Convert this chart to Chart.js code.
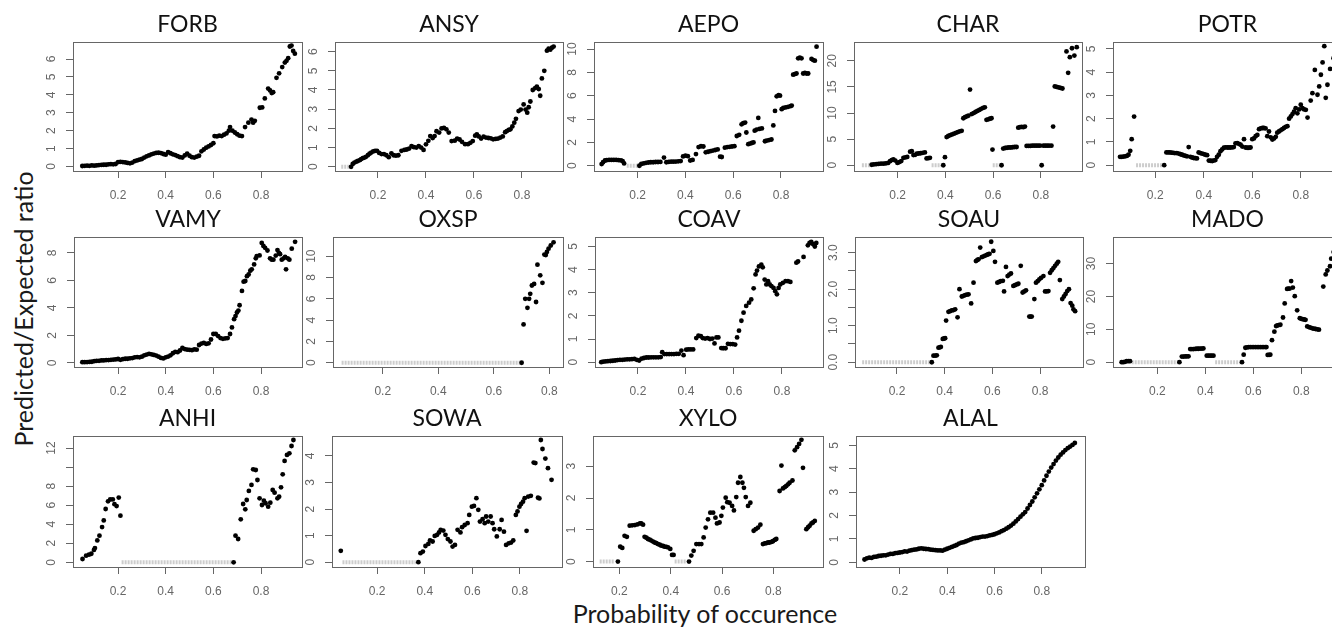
<!DOCTYPE html>
<html>
<head>
<meta charset="utf-8">
<title>Predicted/Expected ratio vs probability of occurence</title>
<script src="https://cdn.jsdelivr.net/npm/chart.js@4.4.1/dist/chart.umd.min.js"></script>
<style>
  html, body { margin: 0; padding: 0; background: #fff; }
  #fig { position: relative; width: 1332px; height: 630px; overflow: hidden; background: #fff; }
  #fig canvas { position: absolute; }
  .axis-title { position: absolute; font-family: Lato, "Open Sans", sans-serif; font-size: 25px; color: #1a1a1a; white-space: nowrap; }
  #xtitle { left: 705px; top: 613px; transform: translate(-50%, -50%); }
  #ytitle { left: 23px; top: 309px; transform: translate(-50%, -50%) rotate(-90deg); }
</style>
</head>
<body>
<div id="fig">
  <div id="xtitle" class="axis-title">Probability of occurence</div>
  <div id="ytitle" class="axis-title">Predicted/Expected ratio</div>
</div>
<script>
// [probability, ratio] pairs; *_ZERO are the grey runs of zeros (from, to)
const FORB = [[0.05,0.03],[0.06,0.04],[0.07,0.05],[0.08,0.04],[0.09,0.06],[0.10,0.05],[0.11,0.06],[0.12,0.08],[0.13,0.09],[0.14,0.1],[0.15,0.1],[0.16,0.12],[0.17,0.13],[0.18,0.12],[0.19,0.14],[0.20,0.24],[0.21,0.26],[0.22,0.25],[0.23,0.23],[0.24,0.2],[0.25,0.18],[0.26,0.22],[0.27,0.3],[0.28,0.34],[0.29,0.38],[0.30,0.42],[0.31,0.5],[0.32,0.57],[0.33,0.62],[0.34,0.68],[0.35,0.72],[0.36,0.76],[0.37,0.77],[0.38,0.75],[0.39,0.7],[0.40,0.66],[0.41,0.8],[0.42,0.74],[0.43,0.68],[0.44,0.64],[0.45,0.58],[0.46,0.52],[0.47,0.5],[0.48,0.62],[0.49,0.72],[0.50,0.6],[0.51,0.52],[0.52,0.5],[0.53,0.55],[0.54,0.6],[0.55,0.85],[0.56,0.95],[0.57,1.05],[0.58,1.12],[0.59,1.2],[0.60,1.3],[0.605,1.7],[0.615,1.68],[0.625,1.72],[0.635,1.7],[0.645,1.78],[0.655,1.85],[0.665,2.0],[0.67,2.2],[0.68,2.0],[0.69,1.9],[0.70,1.8],[0.71,1.72],[0.72,1.7],[0.733,2.2],[0.747,2.45],[0.76,2.62],[0.767,2.45],[0.774,2.55],[0.795,3.28],[0.805,3.3],[0.816,3.8],[0.83,4.35],[0.838,4.25],[0.845,4.1],[0.851,4.15],[0.865,4.95],[0.876,5.2],[0.889,5.55],[0.9,5.8],[0.907,5.9],[0.914,6.05],[0.921,6.7],[0.928,6.75],[0.935,6.45],[0.942,6.3]];
const FORB_ZERO = [];

const ANSY = [[0.088,0.0],[0.095,0.15],[0.102,0.22],[0.11,0.27],[0.116,0.3],[0.125,0.35],[0.13,0.4],[0.137,0.45],[0.144,0.48],[0.15,0.52],[0.158,0.6],[0.165,0.68],[0.172,0.74],[0.18,0.8],[0.188,0.83],[0.196,0.83],[0.205,0.72],[0.215,0.66],[0.225,0.66],[0.235,0.6],[0.245,0.5],[0.256,0.7],[0.265,0.6],[0.275,0.58],[0.285,0.6],[0.298,0.83],[0.31,0.88],[0.32,0.9],[0.33,0.95],[0.34,1.08],[0.35,1.02],[0.36,1.0],[0.37,1.08],[0.38,1.0],[0.39,0.88],[0.40,1.17],[0.41,1.35],[0.418,1.6],[0.428,1.5],[0.436,1.6],[0.444,1.85],[0.455,1.78],[0.465,2.0],[0.475,2.03],[0.485,1.95],[0.495,1.78],[0.507,1.34],[0.52,1.36],[0.53,1.47],[0.54,1.42],[0.55,1.3],[0.563,1.18],[0.575,1.18],[0.585,1.25],[0.595,1.34],[0.605,1.62],[0.612,1.69],[0.62,1.58],[0.63,1.47],[0.64,1.57],[0.65,1.52],[0.66,1.5],[0.67,1.48],[0.68,1.43],[0.69,1.45],[0.70,1.47],[0.71,1.52],[0.72,1.58],[0.73,1.8],[0.737,1.86],[0.745,1.92],[0.752,1.95],[0.76,2.1],[0.768,2.3],[0.775,2.5],[0.786,2.9],[0.795,2.98],[0.807,3.25],[0.815,2.98],[0.822,2.82],[0.828,3.1],[0.835,3.4],[0.845,4.0],[0.855,4.1],[0.862,4.18],[0.87,4.05],[0.876,3.7],[0.883,4.6],[0.893,5.0],[0.904,6.05],[0.911,6.15],[0.918,6.1],[0.925,6.2],[0.932,6.26]];
const ANSY_ZERO = [[0.047, 0.08]];

const AEPO = [[0.049,0.14],[0.055,0.3],[0.063,0.45],[0.07,0.48],[0.08,0.5],[0.09,0.5],[0.1,0.5],[0.11,0.5],[0.12,0.48],[0.13,0.46],[0.137,0.4],[0.143,0.2],[0.207,0.0],[0.215,0.15],[0.225,0.2],[0.235,0.25],[0.245,0.28],[0.255,0.3],[0.265,0.3],[0.275,0.32],[0.285,0.32],[0.295,0.33],[0.31,0.7],[0.32,0.3],[0.33,0.33],[0.34,0.35],[0.35,0.35],[0.36,0.36],[0.37,0.38],[0.38,0.4],[0.39,0.8],[0.40,0.86],[0.41,0.82],[0.42,0.45],[0.43,0.5],[0.444,1.0],[0.455,1.6],[0.465,1.67],[0.475,1.65],[0.485,1.15],[0.495,1.2],[0.505,1.25],[0.515,1.3],[0.525,1.35],[0.535,1.4],[0.545,0.78],[0.552,0.75],[0.565,1.55],[0.575,1.6],[0.585,1.62],[0.595,1.65],[0.605,1.68],[0.615,2.55],[0.625,2.65],[0.635,3.55],[0.642,3.65],[0.65,3.7],[0.655,2.85],[0.663,1.85],[0.67,1.9],[0.678,1.95],[0.685,2.0],[0.69,3.0],[0.698,3.1],[0.705,4.1],[0.71,3.15],[0.72,3.2],[0.733,2.1],[0.74,2.15],[0.75,2.2],[0.76,2.25],[0.768,3.45],[0.775,4.7],[0.782,5.95],[0.79,6.05],[0.796,6.0],[0.803,4.85],[0.81,4.95],[0.82,5.0],[0.83,5.05],[0.84,5.1],[0.845,5.15],[0.851,7.8],[0.858,7.85],[0.865,7.9],[0.872,9.2],[0.879,9.25],[0.886,9.2],[0.893,7.9],[0.9,7.95],[0.907,7.9],[0.914,7.9],[0.928,9.15],[0.935,9.05],[0.942,9.0],[0.949,10.2]];
const AEPO_ZERO = [[0.154, 0.2]];

const CHAR = [[0.091,0.1],[0.1,0.15],[0.11,0.2],[0.12,0.25],[0.13,0.3],[0.14,0.3],[0.15,0.35],[0.16,0.45],[0.168,0.78],[0.175,1.0],[0.182,1.1],[0.19,0.9],[0.199,0.45],[0.207,0.6],[0.215,0.8],[0.224,1.42],[0.232,1.5],[0.24,1.6],[0.252,2.6],[0.259,2.7],[0.266,1.95],[0.273,2.0],[0.28,2.2],[0.288,2.25],[0.296,2.3],[0.305,2.38],[0.314,2.45],[0.321,1.3],[0.328,1.35],[0.335,1.42],[0.391,0.0],[0.398,1.55],[0.405,5.4],[0.412,5.6],[0.42,5.75],[0.428,5.9],[0.436,6.05],[0.444,6.2],[0.452,6.35],[0.46,6.5],[0.468,6.6],[0.475,9.0],[0.482,9.2],[0.489,9.35],[0.496,9.5],[0.503,14.5],[0.51,9.8],[0.518,10.0],[0.526,10.2],[0.534,10.4],[0.542,10.6],[0.55,10.8],[0.558,11.0],[0.565,11.1],[0.572,8.7],[0.579,8.8],[0.586,8.9],[0.593,9.0],[0.597,3.0],[0.635,0.0],[0.642,3.2],[0.65,3.3],[0.658,3.35],[0.666,3.4],[0.674,3.4],[0.682,3.45],[0.69,3.5],[0.698,3.5],[0.705,7.2],[0.712,7.3],[0.719,7.35],[0.726,7.3],[0.733,7.4],[0.74,3.7],[0.748,3.7],[0.756,3.7],[0.764,3.75],[0.772,3.75],[0.78,3.75],[0.788,3.75],[0.796,3.75],[0.803,0.0],[0.81,3.75],[0.818,3.75],[0.826,3.75],[0.834,3.75],[0.844,3.75],[0.851,7.4],[0.858,15.1],[0.866,15.0],[0.874,14.9],[0.882,14.8],[0.89,14.7],[0.907,21.8],[0.914,17.7],[0.921,20.7],[0.93,22.4],[0.94,21.0],[0.95,22.6]];
const CHAR_ZERO = [[0.05, 0.084], [0.342, 0.384], [0.598, 0.628]];

const POTR = [[0.055,0.36],[0.062,0.36],[0.069,0.37],[0.076,0.38],[0.083,0.4],[0.09,0.45],[0.097,0.62],[0.103,1.12],[0.113,2.09],[0.237,0.0],[0.246,0.55],[0.253,0.55],[0.26,0.55],[0.267,0.54],[0.274,0.53],[0.281,0.52],[0.289,0.52],[0.297,0.5],[0.304,0.47],[0.311,0.45],[0.318,0.42],[0.325,0.4],[0.331,0.38],[0.338,0.78],[0.345,0.36],[0.352,0.33],[0.359,0.31],[0.366,0.3],[0.372,0.29],[0.379,0.55],[0.386,0.52],[0.393,0.5],[0.4,0.48],[0.407,0.45],[0.414,0.43],[0.421,0.2],[0.428,0.19],[0.435,0.18],[0.441,0.2],[0.448,0.22],[0.455,0.36],[0.462,0.45],[0.469,0.6],[0.476,0.68],[0.483,0.75],[0.49,0.77],[0.497,0.76],[0.504,0.76],[0.511,0.76],[0.518,0.77],[0.524,0.78],[0.531,0.94],[0.538,0.95],[0.545,0.92],[0.552,0.88],[0.559,0.8],[0.566,1.12],[0.572,0.76],[0.579,0.75],[0.586,0.75],[0.593,0.76],[0.6,1.12],[0.607,1.15],[0.614,1.25],[0.621,1.3],[0.628,1.55],[0.635,1.58],[0.642,1.6],[0.648,1.6],[0.655,1.58],[0.662,1.25],[0.669,1.45],[0.676,1.2],[0.683,1.1],[0.69,1.15],[0.697,1.22],[0.703,1.4],[0.71,1.45],[0.717,1.5],[0.724,1.55],[0.731,1.6],[0.738,1.65],[0.745,1.68],[0.752,2.0],[0.759,2.1],[0.766,2.2],[0.772,2.3],[0.779,2.45],[0.786,2.23],[0.793,2.4],[0.8,2.6],[0.807,2.45],[0.814,2.4],[0.821,2.38],[0.828,2.05],[0.841,2.78],[0.848,3.1],[0.858,4.1],[0.869,3.03],[0.876,3.39],[0.883,3.89],[0.89,4.42],[0.897,5.12],[0.903,2.9],[0.91,3.46],[0.921,4.14],[0.935,4.6],[0.945,3.8]];
const POTR_ZERO = [[0.121, 0.228]];

const VAMY = [[0.05,0.05],[0.06,0.05],[0.07,0.06],[0.08,0.07],[0.09,0.08],[0.1,0.12],[0.11,0.15],[0.12,0.15],[0.13,0.18],[0.14,0.18],[0.15,0.2],[0.16,0.2],[0.17,0.22],[0.18,0.24],[0.19,0.25],[0.2,0.28],[0.21,0.22],[0.22,0.27],[0.23,0.3],[0.24,0.3],[0.25,0.33],[0.26,0.35],[0.27,0.4],[0.28,0.42],[0.29,0.4],[0.3,0.45],[0.31,0.55],[0.32,0.6],[0.33,0.65],[0.34,0.62],[0.35,0.58],[0.36,0.53],[0.37,0.45],[0.38,0.36],[0.39,0.32],[0.4,0.4],[0.41,0.46],[0.42,0.55],[0.43,0.7],[0.44,0.8],[0.45,0.78],[0.46,0.9],[0.47,1.08],[0.48,1.0],[0.49,0.96],[0.5,0.95],[0.51,0.92],[0.52,0.98],[0.53,0.96],[0.54,1.3],[0.55,1.4],[0.56,1.45],[0.57,1.38],[0.58,1.42],[0.59,1.7],[0.6,2.1],[0.61,2.1],[0.62,1.95],[0.63,1.8],[0.64,1.75],[0.65,1.78],[0.66,1.8],[0.67,2.1],[0.678,2.58],[0.687,3.18],[0.693,3.4],[0.699,3.66],[0.705,3.8],[0.71,4.19],[0.72,5.23],[0.727,5.9],[0.734,5.95],[0.741,6.3],[0.748,6.43],[0.755,6.7],[0.761,6.8],[0.771,7.16],[0.778,7.6],[0.782,7.76],[0.794,7.81],[0.803,8.72],[0.81,8.5],[0.817,8.36],[0.827,8.17],[0.838,7.6],[0.845,7.5],[0.852,7.5],[0.862,7.8],[0.869,8.2],[0.875,8.0],[0.88,7.9],[0.887,7.5],[0.895,7.6],[0.901,7.7],[0.905,6.8],[0.912,7.6],[0.919,7.5],[0.929,8.3],[0.943,8.8]];
const VAMY_ZERO = [];

const OXSP = [[0.70,0.0],[0.707,3.6],[0.713,6.0],[0.721,5.15],[0.727,6.0],[0.731,6.47],[0.737,7.25],[0.745,7.4],[0.752,5.7],[0.757,9.2],[0.767,8.2],[0.775,7.5],[0.782,10.15],[0.787,10.1],[0.791,10.4],[0.797,10.7],[0.805,11.0],[0.815,11.3]];
const OXSP_ZERO = [[0.052, 0.695]];

const COAV = [[0.047,0.0],[0.055,0.02],[0.065,0.03],[0.075,0.04],[0.085,0.05],[0.095,0.06],[0.105,0.07],[0.115,0.09],[0.125,0.1],[0.135,0.1],[0.145,0.11],[0.155,0.12],[0.165,0.12],[0.175,0.13],[0.185,0.14],[0.195,0.1],[0.205,0.07],[0.215,0.15],[0.225,0.18],[0.235,0.2],[0.245,0.2],[0.255,0.21],[0.265,0.21],[0.275,0.21],[0.285,0.21],[0.295,0.22],[0.301,0.43],[0.31,0.35],[0.32,0.35],[0.33,0.35],[0.34,0.35],[0.35,0.35],[0.36,0.36],[0.37,0.36],[0.381,0.5],[0.39,0.3],[0.401,0.54],[0.41,0.55],[0.42,0.55],[0.43,0.55],[0.443,1.04],[0.452,1.14],[0.462,1.12],[0.47,1.04],[0.48,1.02],[0.49,1.04],[0.5,1.0],[0.51,1.02],[0.519,0.81],[0.527,1.07],[0.535,1.07],[0.547,0.61],[0.555,0.6],[0.565,0.6],[0.575,0.79],[0.585,0.78],[0.595,0.78],[0.605,0.76],[0.613,1.07],[0.621,1.36],[0.631,1.79],[0.64,2.14],[0.651,2.43],[0.663,2.57],[0.672,2.71],[0.682,3.19],[0.69,3.79],[0.696,3.96],[0.704,4.14],[0.714,4.21],[0.72,4.1],[0.728,3.57],[0.735,3.36],[0.742,3.5],[0.749,3.36],[0.756,3.29],[0.765,3.21],[0.772,3.07],[0.779,2.93],[0.786,3.21],[0.793,3.36],[0.804,3.43],[0.815,3.5],[0.825,3.5],[0.835,3.47],[0.86,4.3],[0.867,4.35],[0.89,4.55],[0.908,5.05],[0.915,5.15],[0.922,5.2],[0.93,5.1],[0.937,5.0],[0.943,5.15]];
const COAV_ZERO = [];

const SOAU = [[0.346,0.0],[0.353,0.18],[0.36,0.18],[0.367,0.19],[0.374,0.4],[0.38,0.41],[0.384,0.42],[0.392,0.64],[0.398,0.65],[0.402,0.66],[0.406,1.14],[0.416,1.38],[0.423,1.4],[0.43,1.42],[0.437,1.43],[0.444,1.45],[0.454,1.23],[0.462,2.0],[0.472,1.8],[0.479,1.82],[0.486,1.84],[0.493,1.85],[0.5,1.86],[0.511,1.61],[0.521,2.18],[0.531,2.77],[0.537,2.8],[0.542,2.82],[0.549,3.14],[0.556,2.88],[0.563,2.9],[0.57,2.92],[0.577,2.94],[0.583,2.96],[0.588,2.97],[0.595,3.3],[0.604,3.05],[0.611,2.75],[0.621,2.18],[0.628,2.2],[0.635,2.22],[0.644,2.23],[0.649,1.94],[0.657,2.61],[0.664,2.36],[0.671,2.4],[0.678,2.43],[0.688,2.09],[0.695,2.11],[0.702,2.13],[0.709,2.15],[0.719,2.64],[0.727,1.91],[0.734,1.94],[0.741,1.97],[0.755,1.25],[0.76,1.25],[0.765,1.25],[0.776,1.73],[0.783,2.18],[0.79,2.22],[0.797,2.27],[0.804,2.31],[0.814,2.36],[0.821,1.94],[0.828,1.94],[0.835,1.95],[0.842,2.45],[0.849,2.52],[0.856,2.58],[0.863,2.64],[0.87,2.7],[0.876,2.75],[0.883,2.25],[0.893,1.73],[0.9,1.8],[0.907,1.87],[0.914,1.95],[0.921,2.0],[0.928,1.62],[0.935,1.55],[0.94,1.45],[0.947,1.4]];
const SOAU_ZERO = [[0.054, 0.34]];

const MADO = [[0.051,0.0],[0.058,0.0],[0.065,0.1],[0.072,0.3],[0.079,0.3],[0.086,0.3],[0.292,0.0],[0.302,1.7],[0.309,1.7],[0.316,1.75],[0.323,1.75],[0.33,1.8],[0.337,4.0],[0.344,4.0],[0.351,4.0],[0.358,4.05],[0.365,4.1],[0.372,4.1],[0.379,4.15],[0.386,4.15],[0.392,4.2],[0.406,2.0],[0.413,2.0],[0.42,2.0],[0.427,2.0],[0.434,2.0],[0.553,0.0],[0.56,2.3],[0.567,4.4],[0.574,4.5],[0.581,4.6],[0.588,4.6],[0.595,4.6],[0.602,4.6],[0.609,4.6],[0.616,4.6],[0.623,4.6],[0.63,4.6],[0.637,4.6],[0.644,4.6],[0.651,4.6],[0.655,4.6],[0.66,2.2],[0.666,2.2],[0.671,2.3],[0.678,6.7],[0.688,9.3],[0.695,11.0],[0.7,11.2],[0.706,11.3],[0.713,11.4],[0.724,13.6],[0.731,17.9],[0.741,22.3],[0.746,22.4],[0.752,22.4],[0.758,24.7],[0.765,22.7],[0.773,20.1],[0.783,15.8],[0.794,13.4],[0.8,13.2],[0.806,13.1],[0.812,13.0],[0.818,12.9],[0.825,10.9],[0.832,10.7],[0.839,10.5],[0.846,10.3],[0.853,10.2],[0.86,10.1],[0.867,10.0],[0.874,9.9],[0.892,23.0],[0.902,26.7],[0.909,27.9],[0.92,29.2],[0.925,31.5],[0.935,33.5],[0.945,35.5],[0.955,36.6]];
const MADO_ZERO = [[0.093, 0.288], [0.441, 0.546]];

const ANHI = [[0.051,0.35],[0.066,0.7],[0.078,0.8],[0.088,0.9],[0.099,1.3],[0.103,1.5],[0.113,2.3],[0.122,2.8],[0.133,3.7],[0.14,4.4],[0.148,5.6],[0.158,6.4],[0.167,6.6],[0.178,6.6],[0.185,6.1],[0.194,5.9],[0.203,6.8],[0.21,4.9],[0.685,0.0],[0.693,2.8],[0.704,2.45],[0.715,4.51],[0.725,6.12],[0.734,5.56],[0.74,6.54],[0.749,7.49],[0.76,8.12],[0.767,9.76],[0.778,9.69],[0.785,8.64],[0.794,6.72],[0.804,6.02],[0.812,6.47],[0.819,6.2],[0.83,5.84],[0.839,6.26],[0.849,7.59],[0.857,7.31],[0.869,6.72],[0.876,6.89],[0.884,7.87],[0.891,9.24],[0.899,10.64],[0.909,11.27],[0.919,11.44],[0.928,12.21],[0.936,12.84]];
const ANHI_ZERO = [[0.215, 0.678]];

const SOWA = [[0.047,0.43],[0.373,0.0],[0.382,0.34],[0.392,0.4],[0.403,0.61],[0.415,0.69],[0.422,0.82],[0.433,0.78],[0.442,0.99],[0.452,1.03],[0.46,1.12],[0.467,1.22],[0.478,1.19],[0.487,1.03],[0.497,0.87],[0.508,0.78],[0.517,0.59],[0.527,0.65],[0.538,1.22],[0.55,1.12],[0.557,1.32],[0.568,1.4],[0.58,1.47],[0.587,1.78],[0.598,2.09],[0.607,2.12],[0.617,2.41],[0.625,1.97],[0.632,1.53],[0.643,1.62],[0.652,1.47],[0.658,1.72],[0.667,1.53],[0.677,1.72],[0.685,1.47],[0.692,1.24],[0.703,0.97],[0.715,1.24],[0.723,1.59],[0.733,1.15],[0.742,0.65],[0.753,0.71],[0.763,0.74],[0.772,0.82],[0.783,1.78],[0.79,1.91],[0.798,2.09],[0.805,2.19],[0.813,2.28],[0.82,2.41],[0.828,1.18],[0.835,2.47],[0.846,2.5],[0.858,3.75],[0.865,3.73],[0.876,2.43],[0.882,2.4],[0.888,4.6],[0.895,4.26],[0.907,3.9],[0.918,3.54],[0.933,3.1]];
const SOWA_ZERO = [[0.054, 0.362]];

const XYLO = [[0.194,0.0],[0.203,0.47],[0.211,0.43],[0.22,0.81],[0.229,0.78],[0.24,1.13],[0.25,1.14],[0.26,1.15],[0.27,1.17],[0.28,1.2],[0.285,1.2],[0.292,1.16],[0.298,0.78],[0.305,0.75],[0.311,0.71],[0.318,0.69],[0.324,0.66],[0.331,0.63],[0.337,0.6],[0.344,0.58],[0.35,0.55],[0.357,0.53],[0.363,0.5],[0.37,0.49],[0.376,0.47],[0.383,0.46],[0.389,0.45],[0.398,0.4],[0.405,0.21],[0.411,0.21],[0.471,0.0],[0.48,0.19],[0.489,0.34],[0.4996,0.55],[0.51,0.55],[0.519,0.55],[0.528,0.76],[0.536,1.07],[0.545,1.33],[0.554,1.54],[0.565,1.54],[0.574,1.38],[0.58,1.2],[0.59,1.23],[0.597,1.44],[0.603,1.7],[0.614,2.01],[0.62,1.87],[0.629,1.85],[0.639,1.75],[0.646,1.61],[0.655,2.03],[0.662,2.48],[0.671,2.66],[0.679,2.48],[0.685,2.32],[0.692,2.03],[0.701,1.75],[0.71,1.85],[0.723,0.97],[0.731,1.02],[0.74,1.07],[0.749,1.16],[0.759,0.55],[0.766,0.57],[0.772,0.58],[0.779,0.6],[0.785,0.6],[0.792,0.62],[0.798,0.64],[0.805,0.68],[0.811,0.71],[0.824,2.22],[0.831,3.02],[0.837,2.3],[0.844,2.34],[0.85,2.38],[0.857,2.43],[0.863,2.48],[0.874,2.55],[0.883,3.5],[0.892,3.6],[0.9,3.7],[0.909,3.83],[0.915,2.95],[0.928,1.02],[0.935,1.08],[0.941,1.13],[0.948,1.2],[0.954,1.23],[0.961,1.28]];
const XYLO_ZERO = [[0.123, 0.181], [0.415, 0.461]];

const ALAL = [[0.05,0.12],[0.06,0.17],[0.07,0.2],[0.08,0.19],[0.09,0.23],[0.10,0.24],[0.11,0.27],[0.12,0.28],[0.13,0.3],[0.14,0.3],[0.15,0.33],[0.16,0.36],[0.17,0.36],[0.18,0.39],[0.19,0.4],[0.20,0.42],[0.21,0.44],[0.22,0.47],[0.23,0.46],[0.24,0.5],[0.25,0.52],[0.26,0.54],[0.27,0.55],[0.28,0.58],[0.29,0.6],[0.30,0.58],[0.31,0.57],[0.32,0.56],[0.33,0.54],[0.34,0.53],[0.35,0.52],[0.36,0.51],[0.37,0.51],[0.38,0.5],[0.39,0.54],[0.40,0.58],[0.41,0.62],[0.42,0.66],[0.43,0.7],[0.44,0.74],[0.45,0.8],[0.46,0.84],[0.47,0.86],[0.48,0.9],[0.49,0.94],[0.50,0.98],[0.51,1.02],[0.52,1.04],[0.53,1.05],[0.54,1.08],[0.55,1.1],[0.56,1.1],[0.57,1.12],[0.58,1.15],[0.59,1.17],[0.60,1.2],[0.61,1.24],[0.62,1.28],[0.63,1.33],[0.64,1.38],[0.65,1.44],[0.66,1.5],[0.67,1.57],[0.68,1.65],[0.69,1.75],[0.70,1.85],[0.71,1.95],[0.72,2.05],[0.73,2.15],[0.74,2.3],[0.75,2.45],[0.76,2.6],[0.77,2.78],[0.78,2.95],[0.79,3.12],[0.80,3.3],[0.81,3.5],[0.82,3.7],[0.83,3.88],[0.84,4.05],[0.85,4.2],[0.86,4.35],[0.87,4.48],[0.88,4.6],[0.89,4.7],[0.90,4.8],[0.91,4.88],[0.92,4.95],[0.93,5.02],[0.94,5.1]];
const ALAL_ZERO = [];

// panel layout: plot box [left, top, width, height] in px, axis limits, y tick step
const panels = [
  { name: 'FORB', pts: FORB, zero: FORB_ZERO, box: [73, 42, 229, 129],   xr: [0.011, 0.972], yr: [-0.25, 6.95], step: 1 },
  { name: 'ANSY', pts: ANSY, zero: ANSY_ZERO, box: [335, 42, 228, 129],  xr: [0.021, 0.971], yr: [-0.22, 6.5],  step: 1 },
  { name: 'AEPO', pts: AEPO, zero: AEPO_ZERO, box: [594, 42, 229, 129],  xr: [0.017, 0.976], yr: [-0.45, 10.6], step: 2 },
  { name: 'CHAR', pts: CHAR, zero: CHAR_ZERO, box: [854, 42, 228, 129],  xr: [0.017, 0.972], yr: [-1.1, 23.6],  step: 5 },
  { name: 'POTR', pts: POTR, zero: POTR_ZERO, box: [1113, 42, 229, 129], xr: [0.026, 0.97],  yr: [-0.25, 5.3],  step: 1 },
  { name: 'VAMY', pts: VAMY, zero: VAMY_ZERO, box: [74, 237, 228, 130],  xr: [0.015, 0.972], yr: [-0.3, 9.15],  step: 2 },
  { name: 'OXSP', pts: OXSP, zero: OXSP_ZERO, box: [333, 237, 230, 130], xr: [0.021, 0.849], yr: [-0.4, 11.8],  step: 2 },
  { name: 'COAV', pts: COAV, zero: COAV_ZERO, box: [595, 237, 228, 130], xr: [0.021, 0.971], yr: [-0.21, 5.41], step: 1 },
  { name: 'SOAU', pts: SOAU, zero: SOAU_ZERO, box: [855, 237, 228, 130], xr: [0.024, 0.98],  yr: [-0.13, 3.43], step: 0.5, dec: 1, hide: [0.5, 1.5, 2.5] },
  { name: 'MADO', pts: MADO, zero: MADO_ZERO, box: [1113, 237, 229, 130], xr: [0.015, 0.97], yr: [-1.46, 38.1], step: 10 },
  { name: 'ANHI', pts: ANHI, zero: ANHI_ZERO, box: [73, 436, 229, 131],  xr: [0.011, 0.972], yr: [-0.49, 13.26], step: 2, hide: [10] },
  { name: 'SOWA', pts: SOWA, zero: SOWA_ZERO, box: [332, 436, 230, 131], xr: [0.01, 0.977],  yr: [-0.18, 4.75], step: 1 },
  { name: 'XYLO', pts: XYLO, zero: XYLO_ZERO, box: [593, 436, 230, 131], xr: [0.097, 0.993], yr: [-0.17, 3.95], step: 1 },
  { name: 'ALAL', pts: ALAL, zero: ALAL_ZERO, box: [856, 436, 229, 131], xr: [0.014, 0.983], yr: [-0.2, 5.4],   step: 1 }
];

const PAD_L = 48, PAD_T = 36, PAD_R = 14, PAD_B = 34;
const TICK_FONT = { family: '"Liberation Sans", Arial, sans-serif', size: 12 };
const fig = document.getElementById('fig');
const meas = document.createElement('canvas').getContext('2d');
meas.font = '12px "Liberation Sans"';

// R style box around the plot region
const boxPlugin = {
  id: 'rbox',
  afterDatasetsDraw(chart) {
    const a = chart.chartArea, ctx = chart.ctx;
    ctx.save();
    ctx.strokeStyle = '#666';
    ctx.lineWidth = 1;
    ctx.strokeRect(Math.round(a.left) + 0.5, Math.round(a.top) + 0.5,
                   Math.round(a.right - a.left), Math.round(a.bottom - a.top));
    ctx.restore();
  }
};

panels.forEach(p => {
  const [L, T, W, H] = p.box;
  const cv = document.createElement('canvas');
  cv.width = W + PAD_L + PAD_R;
  cv.height = H + PAD_T + PAD_B;
  cv.style.left = (L - PAD_L) + 'px';
  cv.style.top = (T - PAD_T) + 'px';
  fig.appendChild(cv);

  const hide = p.hide || [];
  const fmt = v => hide.some(h => Math.abs(h - v) < 1e-9) ? '' : v.toFixed(p.dec || 0);
  const topTick = Math.floor(p.yr[1] / p.step) * p.step;
  const w = meas.measureText(topTick.toFixed(p.dec || 0)).width;

  const datasets = [{
    data: p.pts.map(([x, y]) => ({ x, y })),
    pointRadius: 2.4,
    pointBackgroundColor: '#000',
    pointBorderWidth: 0
  }];
  p.zero.forEach(([a, b]) => datasets.push({
    data: [{ x: a, y: 0 }, { x: b, y: 0 }],
    showLine: true,
    pointRadius: 0,
    borderColor: '#cdcdcd',
    borderWidth: 4,
    borderDash: [2, 1]
  }));

  new Chart(cv, {
    type: 'scatter',
    data: { datasets },
    options: {
      responsive: false,
      animation: false,
      devicePixelRatio: 1,
      events: [],
      layout: { padding: { left: 0, right: PAD_R, top: 0, bottom: 0 } },
      plugins: {
        legend: { display: false },
        tooltip: { enabled: false },
        title: {
          display: true, text: p.name, fullSize: false, color: '#111',
          font: { family: 'Lato, "Open Sans", sans-serif', size: 23, weight: 'normal', lineHeight: 1.2 },
          padding: { top: 4.4, bottom: 4 }
        }
      },
      scales: {
        x: {
          type: 'linear', min: p.xr[0], max: p.xr[1],
          grid: { drawOnChartArea: false, tickLength: 7, color: '#666' },
          border: { display: false },
          ticks: { stepSize: 0.2, includeBounds: false, padding: 10, color: '#666',
                   font: TICK_FONT, maxRotation: 0, autoSkip: false },
          afterFit: s => { s.height = PAD_B; s.paddingLeft = 0; s.paddingRight = 0; }
        },
        y: {
          type: 'linear', min: p.yr[0], max: p.yr[1],
          grid: { drawOnChartArea: false, tickLength: 7, color: '#666' },
          border: { display: false },
          ticks: { stepSize: p.step, includeBounds: false, padding: 21.3 - 7 - w / 2, color: '#666',
                   font: TICK_FONT, minRotation: 90, maxRotation: 90, crossAlign: 'center',
                   autoSkip: false, callback: v => fmt(v) },
          afterFit: s => { s.width = PAD_L; s.paddingTop = 0; s.paddingBottom = 0; }
        }
      }
    },
    plugins: [boxPlugin]
  });
});
</script>
</body>
</html>
